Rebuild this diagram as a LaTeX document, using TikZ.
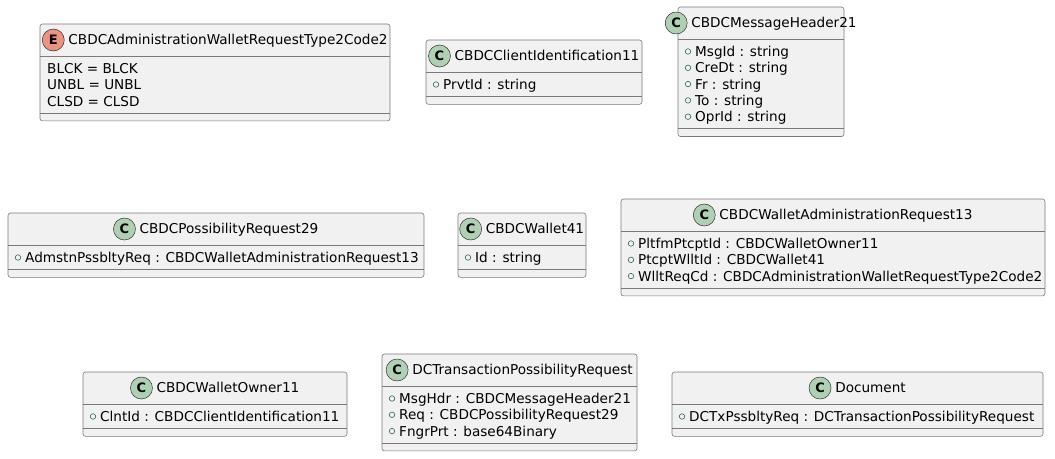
\documentclass[tikz,border=0pt]{standalone}
\usepackage{fontspec}
\setmainfont{DejaVu Sans}
\definecolor{boxfill}{HTML}{F1F1F1}
\definecolor{boxline}{HTML}{7A7A7A}
\definecolor{badgeline}{HTML}{303030}
\definecolor{classbadge}{HTML}{ADD1B2}
\definecolor{enumbadge}{HTML}{EB937F}
\definecolor{pubgreen}{HTML}{2E6B4A}
\tikzset{
  umlbox/.style={draw=boxline, fill=boxfill, line width=0.6pt, rounded corners=2.5pt, inner sep=0pt, outer sep=0pt},
  sepline/.style={draw=boxline, line width=0.6pt},
  umltext/.style={inner sep=0pt, text height=9.8pt, text depth=0pt, font=\fontsize{13.6}{16}\selectfont},
  badge/.style={circle, draw=badgeline, line width=0.5pt, minimum size=22pt, inner sep=0pt, font=\fontsize{13}{14}\selectfont\bfseries},
  vis/.style={circle, draw=pubgreen, line width=0.6pt, minimum size=5.5pt, inner sep=0pt}
}
\newcommand{\mkbox}[8]{%
  \pgfmathsetmacro\bw{#3-#2}%
  \pgfmathsetmacro\bh{48+16.3*#5}%
  \pgfmathsetmacro\bcx{(#2+#3)/2+13}%
  \pgfmathsetmacro\bsep{32+16.3*#5+8}%
  \node[umlbox, minimum width=\bw pt, minimum height=\bh pt, anchor=north west] (#1) at (#2,#4) {};
  \draw[sepline] ([yshift=-32pt]#1.north west) -- ([yshift=-32pt]#1.north east);
  \draw[sepline] ([yshift=-\bsep pt]#1.north west) -- ([yshift=-\bsep pt]#1.north east);
  \node[umltext] (#1-t) at (\bcx, #4+16) {#8};
  \node[badge, fill=#6] (#1-b) at ([xshift=-15pt]#1-t.west) {#7};
}
\newcommand{\mkattr}[3]{%
  \pgfmathsetmacro\ay{-(44.5+16.3*#2)}%
  \node[vis] (#1-v#2) at ([xshift=10pt, yshift=\ay pt]#1.north west) {};
  \node[umltext, anchor=west] (#1-a#2) at ([xshift=17pt, yshift=\ay pt]#1.north west) {#3};
}
\newcommand{\mkenum}[3]{%
  \pgfmathsetmacro\ay{-(44.5+16.3*#2)}%
  \node[umltext, anchor=west] (#1-a#2) at ([xshift=7pt, yshift=\ay pt]#1.north west) {#3};
}
\begin{document}
\begin{tikzpicture}[x=1pt, y=-1pt]
\useasboundingbox[fill=white] (0,0) rectangle (1055,458);
% row 1
\mkbox{b1}{40}{390}{24}{3}{enumbadge}{E}{CBDCAdministrationWalletRequestType2Code2}
\mkenum{b1}{0}{BLCK = BLCK}
\mkenum{b1}{1}{UNBL = UNBL}
\mkenum{b1}{2}{CLSD = CLSD}
\mkbox{b2}{426}{642}{40}{1}{classbadge}{C}{CBDCClientIdentification11}
\mkattr{b2}{0}{PrvtId : string}
\mkbox{b3}{678}{844}{7}{5}{classbadge}{C}{CBDCMessageHeader21}
\mkattr{b3}{0}{MsgId : string}
\mkattr{b3}{1}{CreDt : string}
\mkattr{b3}{2}{Fr : string}
\mkattr{b3}{3}{To : string}
\mkattr{b3}{4}{OprId : string}
% row 2
\mkbox{b4}{8}{424}{213}{1}{classbadge}{C}{CBDCPossibilityRequest29}
\mkattr{b4}{0}{AdmstnPssbltyReq : CBDCWalletAdministrationRequest13}
\mkbox{b5}{458}{586}{213}{1}{classbadge}{C}{CBDCWallet41}
\mkattr{b5}{0}{Id : string}
\mkbox{b6}{621}{1045}{199}{3}{classbadge}{C}{CBDCWalletAdministrationRequest13}
\mkattr{b6}{0}{PltfmPtcptId : CBDCWalletOwner11}
\mkattr{b6}{1}{PtcptWlltId : CBDCWallet41}
\mkattr{b6}{2}{WlltReqCd : CBDCAdministrationWalletRequestType2Code2}
% row 3
\mkbox{b7}{83}{347}{372}{1}{classbadge}{C}{CBDCWalletOwner11}
\mkattr{b7}{0}{ClntId : CBDCClientIdentification11}
\mkbox{b8}{382}{637}{354}{3}{classbadge}{C}{DCTransactionPossibilityRequest}
\mkattr{b8}{0}{MsgHdr : CBDCMessageHeader21}
\mkattr{b8}{1}{Req : CBDCPossibilityRequest29}
\mkattr{b8}{2}{FngrPrt : base64Binary}
\mkbox{b9}{672}{1043}{372}{1}{classbadge}{C}{Document}
\mkattr{b9}{0}{DCTxPssbltyReq : DCTransactionPossibilityRequest}
\end{tikzpicture}
\end{document}
